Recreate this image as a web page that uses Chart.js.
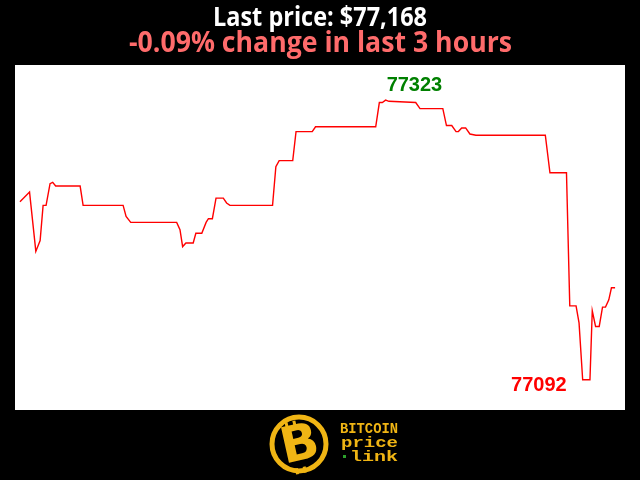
<!DOCTYPE html>
<html>
<head>
<meta charset="utf-8">
<script src="https://cdn.jsdelivr.net/npm/chart.js@4.4.1/dist/chart.umd.min.js"></script>
<style>
  html, body { margin: 0; padding: 0; background: #000; }
  #wrap { width: 640px; height: 480px; }
</style>
</head>
<body>
<div id="wrap"><canvas id="chart" width="640" height="480"></canvas></div>
<script>
// minutes since start of the 3 hour window, and the price at each vertex
const minutes = [0, 2.9, 4.8, 6.1, 7.0, 7.9, 9.1, 9.9, 10.8, 18.2, 19.1, 31.2, 32.1, 33.5, 47.4,
  48.4, 49.2, 50.2, 52.4, 53.2, 55.0, 56.3, 57.0, 58.2, 59.3, 61.5, 62.5, 63.5, 76.4, 77.4,
  78.4, 82.5, 83.5, 88.4, 89.4, 107.6, 108.7, 109.6, 110.6, 111.6, 119.7, 121.0, 127.9, 129.0,
  130.6, 131.9, 132.6, 133.6, 134.8, 136.1, 137.9, 158.9, 160.3, 165.3, 166.3, 168.2, 169.1,
  170.2, 172.4, 173.1, 174.1, 175.2, 176.2, 177.1, 178.1, 178.9, 180];
const prices = [77239, 77247, 77198, 77207, 77236, 77236, 77254, 77255, 77252, 77252, 77236, 77236,
  77227, 77222, 77222, 77216, 77202, 77205, 77205, 77213, 77213, 77222, 77225, 77225, 77242,
  77242, 77238, 77236, 77236, 77268, 77273, 77273, 77297, 77297, 77301, 77301, 77321, 77321,
  77323, 77322, 77321, 77316, 77316, 77302, 77302, 77297, 77297, 77300, 77300, 77295, 77294,
  77294, 77263, 77263, 77153, 77153, 77139, 77092, 77092, 77149, 77136, 77136, 77152, 77152,
  77158, 77168, 77168];

const titleText = 'Last price: $77,168';
const subtitleText = '-0.09% change in last 3 hours';
const logoLines = ['BITCOIN', 'price', 'link'];

const GOLD = '#f0b514';

// draw text squeezed/stretched to a given width (the original uses a narrow face)
const fitText = (ctx, text, x, baseline, width) => {
  const w = ctx.measureText(text).width;
  ctx.save();
  ctx.translate(x, baseline);
  ctx.scale(width / w, 1);
  ctx.fillText(text, 0, 0);
  ctx.restore();
};

const backgroundPlugin = {
  id: 'background',
  beforeDraw(chart) {
    const { ctx, chartArea } = chart;
    ctx.save();
    ctx.fillStyle = '#000';
    ctx.fillRect(0, 0, chart.width, chart.height);
    ctx.fillStyle = '#fff';
    ctx.fillRect(chartArea.left, chartArea.top, chartArea.right - chartArea.left, chartArea.bottom - chartArea.top);
    ctx.restore();
  }
};

const headerPlugin = {
  id: 'header',
  afterDraw(chart) {
    const ctx = chart.ctx;
    ctx.save();
    ctx.textAlign = 'left';
    ctx.textBaseline = 'alphabetic';
    ctx.fillStyle = '#fff';
    ctx.font = 'bold 26px "Open Sans", sans-serif';
    fitText(ctx, titleText, 213, 26, 214);
    ctx.fillStyle = '#ff6b6b';
    ctx.font = 'bold 28px "Open Sans", sans-serif';
    fitText(ctx, subtitleText, 129, 52, 383);
    ctx.restore();
  }
};

// high / low labels next to the extremes
const extremesPlugin = {
  id: 'extremes',
  afterDatasetsDraw(chart) {
    const { ctx, scales } = chart;
    const hi = Math.max(...prices);
    const lo = Math.min(...prices);
    const hiIdx = prices.indexOf(hi);
    const loIdx = prices.indexOf(lo);
    ctx.save();
    ctx.font = 'bold 20px "Liberation Sans", Arial, sans-serif';
    ctx.textBaseline = 'alphabetic';
    ctx.fillStyle = '#008000';
    ctx.textAlign = 'left';
    ctx.fillText(String(hi), scales.x.getPixelForValue(minutes[hiIdx]) + 1, scales.y.getPixelForValue(hi) - 9);
    ctx.fillStyle = '#ff0000';
    ctx.textAlign = 'right';
    ctx.fillText(String(lo), scales.x.getPixelForValue(minutes[loIdx]) - 16, scales.y.getPixelForValue(lo) + 11);
    ctx.restore();
  }
};

const logoPlugin = {
  id: 'logo',
  afterDraw(chart) {
    const ctx = chart.ctx;
    ctx.save();
    // coin
    ctx.strokeStyle = GOLD;
    ctx.lineWidth = 5;
    ctx.beginPath();
    ctx.arc(299, 444, 27, 0, Math.PI * 2);
    ctx.stroke();
    ctx.fillStyle = GOLD;
    ctx.save();
    ctx.translate(300, 446);
    ctx.rotate(-0.22);
    ctx.font = 'bold 50px "DejaVu Sans", sans-serif';
    ctx.textAlign = 'center';
    ctx.textBaseline = 'middle';
    ctx.fillText('B', 0, 1);
    ctx.fillRect(-10, -26, 3, 6);
    ctx.fillRect(-2, -26, 3, 6);
    ctx.fillRect(-10, 21, 3, 6);
    ctx.fillRect(-2, 21, 3, 6);
    ctx.restore();
    // wordmark
    ctx.font = 'bold 15px "Liberation Mono", "DejaVu Sans Mono", monospace';
    ctx.textAlign = 'left';
    ctx.textBaseline = 'alphabetic';
    fitText(ctx, logoLines[0], 340, 433, 58);
    fitText(ctx, logoLines[1], 341, 447, 57);
    fitText(ctx, logoLines[2], 350, 461, 48);
    ctx.fillStyle = '#2ca02c';
    ctx.fillRect(343, 455, 3, 3);
    ctx.restore();
  }
};

const ctx = document.getElementById('chart').getContext('2d');
new Chart(ctx, {
  type: 'line',
  data: {
    datasets: [{
      data: minutes.map((m, i) => ({ x: m, y: prices[i] })),
      borderColor: '#ff0000',
      borderWidth: 1.4,
      pointRadius: 0,
      tension: 0,
      fill: false
    }]
  },
  options: {
    responsive: false,
    animation: false,
    devicePixelRatio: 1,
    layout: { padding: { left: 15, right: 15, top: 65, bottom: 70 } },
    scales: {
      x: { type: 'linear', display: false, min: -1.5, max: 183 },
      y: { display: false, min: 77067, max: 77352 }
    },
    plugins: {
      legend: { display: false },
      tooltip: { enabled: false },
      title: { display: false },
      subtitle: { display: false }
    }
  },
  plugins: [backgroundPlugin, extremesPlugin, headerPlugin, logoPlugin]
});
</script>
</body>
</html>
